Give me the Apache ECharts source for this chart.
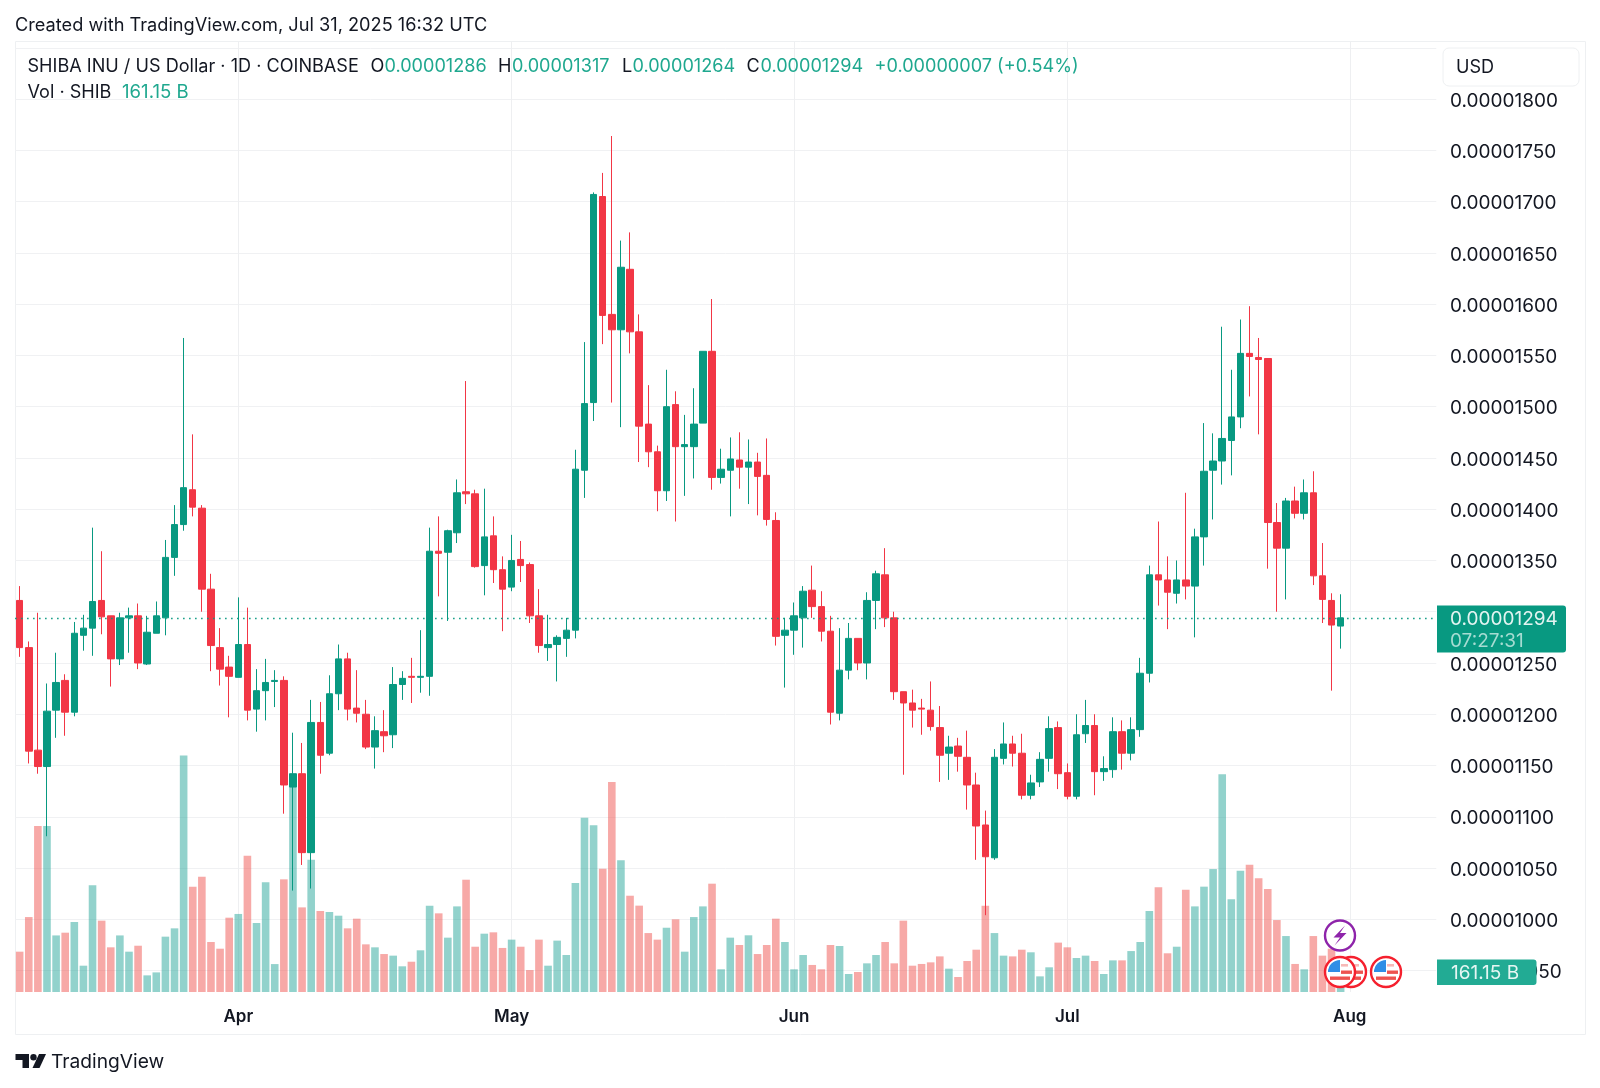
<!DOCTYPE html>
<html>
<head>
<meta charset="utf-8">
<style>html,body{margin:0;padding:0;background:#fff}#c{width:1600px;height:1088px}</style>
<script src="https://cdn.jsdelivr.net/npm/echarts@6/dist/echarts.min.js"></script>
</head>
<body>
<div id="c"></div>
<script>
// Prices in units of 1e-8 USD, daily candles from 2025-03-08 to 2025-07-31
const startDate = '2025-03-08';
const futureDays = 10;
const opens = [1311,1265,1165,1149,1204,1233,1202,1277,1284,1311,
1296,1254,1294,1296,1249,1279,1294,1353,1385,1419,
1401,1322,1265,1246,1236,1268,1205,1223,1232,1233,
1129,1142,1065,1192,1162,1220,1254,1206,1200,1168,
1183,1180,1229,1237,1236,1237,1359,1358,1377,1417,
1415,1345,1374,1341,1324,1351,1346,1296,1265,1268,
1274,1282,1438,1504,1705,1590,1575,1634,1573,1483,
1456,1418,1502,1461,1461,1484,1554,1431,1438,1448,
1441,1446,1433,1389,1277,1282,1294,1321,1305,1281,
1201,1243,1274,1250,1311,1336,1294,1222,1211,1206,
1204,1187,1162,1169,1158,1131,1092,1060,1157,1171,
1162,1121,1134,1157,1187,1143,1120,1181,1189,1144,
1146,1183,1162,1185,1240,1336,1331,1318,1331,1325,
1373,1438,1447,1467,1490,1552,1548,1547,1387,1362,
1408,1396,1416,1335,1311,1286];
const closes = [1265,1164,1149,1203,1231,1202,1279,1284,1310,1295,
1254,1294,1296,1250,1280,1296,1353,1385,1421,1402,
1322,1267,1244,1237,1268,1204,1223,1231,1233,1131,
1142,1065,1192,1160,1220,1254,1205,1201,1168,1184,
1179,1229,1235,1236,1237,1359,1357,1379,1416,1415,
1344,1373,1341,1322,1350,1345,1296,1267,1268,1275,
1282,1439,1503,1707,1589,1575,1636,1573,1481,1456,
1418,1500,1461,1463,1483,1554,1431,1439,1449,1441,
1446,1432,1390,1276,1282,1296,1320,1305,1281,1202,
1243,1274,1250,1311,1337,1294,1222,1211,1204,1205,
1188,1160,1168,1159,1131,1091,1061,1158,1171,1162,
1121,1133,1156,1186,1142,1120,1180,1189,1144,1147,
1183,1162,1185,1240,1336,1331,1319,1331,1325,1373,
1437,1447,1469,1490,1552,1549,1546,1387,1362,1408,
1396,1416,1335,1312,1287,1294];
const highs = [1325,1271,1299,1230,1260,1239,1290,1297,1382,1359,
1296,1299,1304,1308,1296,1310,1370,1404,1567,1473,
1404,1337,1284,1257,1314,1304,1244,1254,1243,1237,
1182,1172,1214,1212,1238,1268,1260,1243,1214,1198,
1204,1246,1242,1255,1282,1382,1393,1380,1429,1525,
1419,1420,1393,1354,1375,1369,1348,1322,1297,1277,
1294,1458,1563,1709,1728,1764,1662,1670,1590,1521,
1462,1536,1515,1492,1518,1554,1605,1459,1470,1475,
1468,1455,1469,1397,1294,1309,1325,1345,1320,1296,
1284,1289,1274,1319,1340,1362,1300,1222,1224,1215,
1232,1208,1179,1177,1184,1143,1106,1166,1192,1179,
1181,1141,1163,1198,1193,1152,1200,1214,1200,1159,
1197,1194,1197,1255,1345,1388,1354,1350,1416,1381,
1484,1474,1578,1536,1585,1598,1567,1547,1406,1411,
1422,1429,1437,1367,1318,1317];
const lows = [1256,1152,1142,1081,1177,1179,1198,1262,1257,1278,
1227,1248,1260,1244,1248,1279,1277,1335,1379,1393,
1300,1242,1228,1197,1236,1194,1183,1194,1207,1103,
1028,1053,1030,1142,1160,1204,1194,1192,1166,1147,
1163,1167,1214,1211,1221,1218,1315,1291,1367,1405,
1343,1316,1328,1281,1320,1329,1289,1260,1252,1232,
1256,1274,1411,1486,1561,1504,1480,1552,1446,1441,
1398,1408,1388,1413,1430,1484,1419,1425,1393,1420,
1405,1394,1384,1267,1226,1258,1265,1294,1271,1190,
1194,1234,1243,1234,1283,1285,1214,1141,1187,1180,
1184,1134,1136,1144,1107,1058,1004,1058,1151,1149,
1117,1117,1129,1144,1127,1117,1117,1172,1121,1135,
1138,1146,1155,1178,1231,1306,1283,1308,1312,1275,
1345,1390,1424,1433,1479,1510,1473,1342,1300,1312,
1391,1390,1326,1289,1223,1264];
// Volume in billions of SHIB
const volumes = [325,604,1338,1338,456,478,564,212,860,575,
360,456,325,373,134,158,446,513,1907,849,
929,403,349,599,629,1099,556,884,225,908,
1679,682,1066,653,645,615,513,591,384,360,
306,293,207,244,336,696,634,438,690,905,
365,470,481,355,422,365,177,422,212,414,
298,879,1405,1343,994,1693,1061,776,696,475,
422,518,586,325,604,690,873,183,438,379,
457,306,379,591,403,183,298,218,183,379,
371,145,161,231,298,403,231,575,212,226,
239,287,188,121,250,341,696,475,293,287,
341,320,126,199,398,360,274,293,250,145,
255,255,330,403,653,844,312,365,825,690,
849,991,1755,747,978,1026,916,830,580,451,
226,183,451,293,349,161.15];
const monthNames = ['Jan','Feb','Mar','Apr','May','Jun','Jul','Aug','Sep','Oct','Nov','Dec'];
const priceTickStep = 50, priceMin = 900, priceMax = 1850;
const hiddenPriceTicks = [1300, 1850];
const lastPrice = 1294;
const header = {
  created: 'Created with TradingView.com, Jul 31, 2025 16:32 UTC',
  symbol: 'SHIBA INU / US Dollar · 1D · COINBASE',
  o: '0.00001286', h: '0.00001317', l: '0.00001264', c: '0.00001294',
  change: '+0.00000007 (+0.54%)', vol: 'Vol · SHIB', volValue: '161.15 B',
  countdown: '07:27:31', currency: 'USD', brand: 'TradingView'
};

const UP = '#089981', DOWN = '#F23645', UPV = 'rgba(38,166,154,0.5)', DOWNV = 'rgba(239,83,80,0.5)';
const INK = '#131722', TEAL = '#1fa88f', GRID = '#f0f1f3', VGRID = '#eeeff1';
const FONT = 'Inter, "Noto Sans", sans-serif';

const categories = [];
{
  const d = new Date(startDate + 'T00:00:00Z');
  for (let i = 0; i < opens.length + futureDays; i++) {
    categories.push(d.toISOString().slice(0, 10));
    d.setUTCDate(d.getUTCDate() + 1);
  }
}
const isFirstOfMonth = (i) => categories[i].slice(8) === '01';
const candleData = opens.map((o, i) => [o, closes[i], lows[i], highs[i]]);
const volumeData = volumes.map((v, i) => ({
  value: v,
  itemStyle: { color: closes[i] >= opens[i] ? UPV : DOWNV }
}));

const L = 15.1, W = 1421.2;
const txt = (x, y, text, fill, size, extra) => ({
  type: 'text', x, y: y + 2, z: 110,
  style: Object.assign({ text, fill, font: (size || 18.1) + 'px ' + FONT, textVerticalAlign: 'middle', textBaseline: 'middle' }, extra || {})
});

function flag(cx, cy, z) {
  const c = [];
  c.push({ type: 'circle', shape: { cx, cy, r: 15 }, z, style: { fill: '#fff', stroke: '#f5202e', lineWidth: 2.4 } });
  c.push({ type: 'sector', shape: { cx, cy, r: 12, r0: 0, startAngle: Math.PI, endAngle: Math.PI * 1.5 }, z: z + 1, style: { fill: '#2f8ee6' } });
  c.push({ type: 'rect', shape: { x: cx - 12, y: cy - 2, width: 12, height: 2 }, z: z + 1, style: { fill: '#2f8ee6' } });
  c.push({ type: 'rect', shape: { x: cx + 1, y: cy - 1.5, width: 11, height: 3.4 }, z: z + 1, style: { fill: '#ee5350' } });
  c.push({ type: 'rect', shape: { x: cx - 10, y: cy + 4.5, width: 20, height: 3.4 }, z: z + 1, style: { fill: '#ee5350' } });
  c.push({ type: 'rect', shape: { x: cx + 1, y: cy - 8, width: 7, height: 2.6 }, z: z + 1, style: { fill: '#f7b9b7' } });
  return c;
}
const bolt = [[5, -10], [-6.5, 2], [0, 2], [-5.5, 10], [6.5, -2.5], [0, -2.5]];

const graphics = [
  { type: 'rect', shape: { x: 15.5, y: 41.5, width: 1570, height: 993 }, z: 0, style: { fill: 'none', stroke: '#eef0f2', lineWidth: 1 } },
  txt(15, 23.5, header.created, INK, 18.2),
  txt(27.5, 64.5, header.symbol, INK),
  txt(370.5, 64.5, 'O', INK), txt(384.5, 64.5, header.o, TEAL),
  txt(498, 64.5, 'H', INK), txt(512, 64.5, header.h, TEAL),
  txt(622, 64.5, 'L', INK), txt(632.5, 64.5, header.l, TEAL),
  txt(746.5, 64.5, 'C', INK), txt(760.5, 64.5, header.c, TEAL),
  txt(874.5, 64.5, header.change, TEAL),
  txt(27.5, 90.5, header.vol, INK), txt(122, 90.5, header.volValue, TEAL, 18.6),
  { type: 'rect', shape: { x: 1443, y: 48, width: 136, height: 38, r: 6 }, z: 100, style: { fill: '#fff', stroke: '#eef0f2', lineWidth: 1 } },
  txt(1456, 66, header.currency, INK),
  { type: 'rect', shape: { x: 1437, y: 605.5, width: 129, height: 47, r: [0, 3, 3, 0] }, z: 100, style: { fill: UP } },
  txt(1450, 617.5, header.c, '#e3f4f1', 19),
  txt(1450, 639.5, header.countdown, '#a6dcd2', 19),
  { type: 'rect', shape: { x: 1437, y: 959.5, width: 99.5, height: 25.5, r: [0, 3, 3, 0] }, z: 100, style: { fill: '#22ab94' } },
  txt(1451, 971, header.volValue, '#e6f6f3', 19),
  // Event markers
  { type: 'circle', shape: { cx: 1340, cy: 935.5, r: 15 }, z: 120, style: { fill: '#fff', stroke: '#8e24aa', lineWidth: 2.4 } },
  { type: 'polygon', shape: { points: bolt.map(p => [1340 + p[0], 935.5 + p[1]]) }, z: 121, style: { fill: '#8e24aa' } },
  ...flag(1351, 972, 122), ...flag(1340, 972, 125), ...flag(1386, 972, 122),
  // TradingView mark
  { type: 'polygon', shape: { points: [[15.5,1054],[29,1054],[29,1068],[22.5,1068],[22.5,1060],[15.5,1060]] }, z: 110, style: { fill: INK } },
  { type: 'circle', shape: { cx: 33.5, cy: 1057.2, r: 3.2 }, z: 110, style: { fill: INK } },
  { type: 'polygon', shape: { points: [[39,1054],[46,1054],[39.5,1068],[32.5,1068]] }, z: 110, style: { fill: INK } },
  txt(51, 1060.5, header.brand, INK, 19.2)
];

const chart = echarts.init(document.getElementById('c'), null, { renderer: 'canvas' });
chart.setOption({
  animation: false,
  backgroundColor: '#fff',
  textStyle: { fontFamily: FONT },
  grid: [
    { left: L, width: W, top: 47.84, height: 973.98 },
    { left: L, width: W, top: 42, height: 950 }
  ],
  xAxis: [
    { type: 'category', gridIndex: 0, data: categories, show: false },
    {
      type: 'category', gridIndex: 1, data: categories,
      axisLine: { show: false }, axisTick: { show: false },
      axisLabel: {
        interval: (i) => isFirstOfMonth(i),
        formatter: (v) => monthNames[+v.slice(5, 7) - 1],
        color: INK, fontSize: 17, fontWeight: 600, fontFamily: FONT, margin: 16
      },
      splitLine: {
        show: true, alignWithLabel: true,
        interval: (i) => isFirstOfMonth(i),
        lineStyle: { color: VGRID, width: 1 }
      }
    }
  ],
  yAxis: [
    {
      type: 'value', gridIndex: 0, position: 'right', scale: true,
      min: priceMin, max: priceMax, interval: priceTickStep,
      axisLine: { show: false }, axisTick: { show: false },
      axisLabel: {
        margin: 13.7, color: INK, fontSize: 19, fontFamily: FONT, showMinLabel: false,
        formatter: (v) => hiddenPriceTicks.includes(v) ? '' : '{p|' + (v / 1e8).toFixed(8) + '}',
        rich: { p: { padding: [4, 0, 0, 0], color: INK, fontSize: 19, fontFamily: FONT } }
      },
      splitLine: { show: true, showMinLine: false, lineStyle: { color: GRID, width: 1 } }
    },
    {
      type: 'value', gridIndex: 1, min: 0, max: 7657, show: false, splitLine: { show: false }
    }
  ],
  series: [
    {
      type: 'bar', name: 'Vol', xAxisIndex: 1, yAxisIndex: 1, z: 1,
      barWidth: 7.6, data: volumeData, silent: true
    },
    {
      type: 'candlestick', name: 'SHIB/USD', xAxisIndex: 0, yAxisIndex: 0, z: 3,
      barWidth: 7, data: candleData,
      itemStyle: { color: UP, color0: DOWN, borderColor: UP, borderColor0: DOWN, borderWidth: 1 },
      markLine: {
        silent: true, symbol: 'none', animation: false, z: 4,
        label: { show: false },
        lineStyle: { color: UP, type: [1.5, 4.5], width: 1.3 },
        data: [{ yAxis: lastPrice }]
      }
    }
  ],
  graphic: graphics
});
</script>
</body>
</html>
